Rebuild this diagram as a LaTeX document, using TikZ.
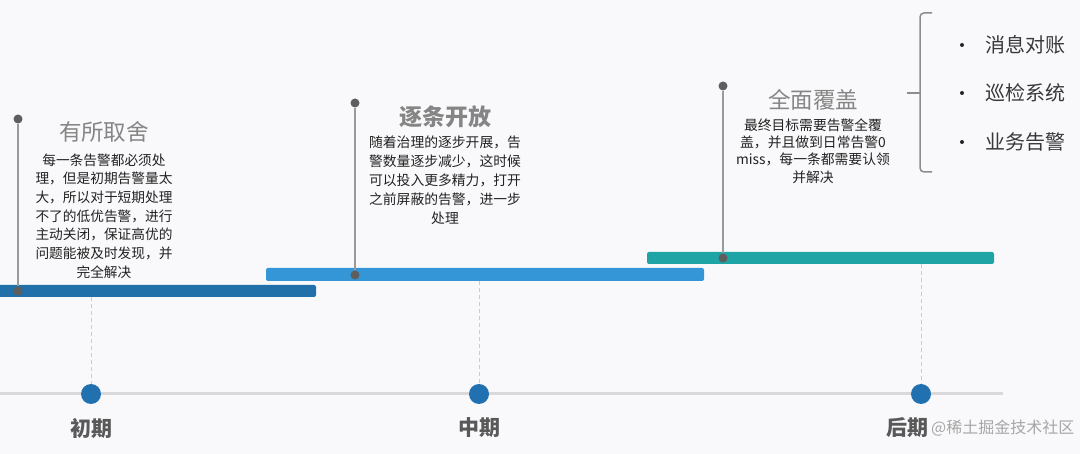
\documentclass[tikz,border=0pt]{standalone}
\usepackage{fontspec}
\setmainfont{Noto Sans CJK SC}
\usetikzlibrary{calc}
\definecolor{bgc}{HTML}{F9F9FB}
\definecolor{barA}{HTML}{2170A9}
\definecolor{barB}{HTML}{3496D6}
\definecolor{barC}{HTML}{1EA4A4}
\definecolor{dotc}{HTML}{2171B0}
\definecolor{axisc}{HTML}{D9D9D9}
\definecolor{pinc}{HTML}{9A9A9A}
\definecolor{pindot}{HTML}{5E5E5E}
\definecolor{titlec}{HTML}{858585}
\definecolor{bodyc}{HTML}{222222}
\definecolor{labelc}{HTML}{595959}
\definecolor{bracec}{HTML}{8C8C8C}
\tikzset{
  x=1pt,y=-1pt,
  bar/.style={rounded corners=2pt, draw=none},
  stagedot/.style={circle, fill=dotc, minimum size=20pt, inner sep=0pt},
  pindotst/.style={circle, fill=pindot, minimum size=9pt, inner sep=0pt},
  pinline/.style={draw=pinc, line width=1.6pt},
  guide/.style={draw=axisc!85!gray, line width=1pt, dash pattern=on 4pt off 3pt},
  titlest/.style={text=titlec, font=\fontsize{22.5}{26}\selectfont, inner sep=0pt},
  bodyst/.style={text=bodyc, align=center, inner sep=0pt},
  stagelabel/.style={text=labelc, font=\bfseries\fontsize{21}{24}\selectfont, inner sep=0pt},
  bulletdot/.style={circle, fill=black!85, minimum size=4pt, inner sep=0pt},
  itemst/.style={text=bodyc!90!white, font=\fontsize{20}{24}\selectfont, anchor=west, inner sep=0pt},
}
\begin{document}
\begin{tikzpicture}
\useasboundingbox (0,0) rectangle (1080,454);
\fill[bgc] (0,0) rectangle (1080,454);

% axis
\draw[axisc, line width=3pt] (0,394) -- (1003,394);

% stage dots
\node[stagedot] (s1) at (91,394) {};
\node[stagedot] (s2) at (479,394) {};
\node[stagedot] (s3) at (921,394) {};

% bars
\fill[barA, bar] (-5,285) rectangle (316,297);
\fill[barB, bar] (266,268) rectangle (704,281);
\fill[barC, bar] (647,252) rectangle (994,264);

% guide anchors on bars
\coordinate (g1) at (91,297);
\coordinate (g2) at (479,281);
\coordinate (g3) at (921,264);
\draw[guide] (g1) -- (s1.north);
\draw[guide] (g2) -- (s2.north);
\draw[guide] (g3) -- (s3.north);

% pins
\node[pindotst] (p1t) at (18,119) {};
\node[pindotst] (p1b) at (18,291) {};
\node[pindotst] (p2t) at (355,103) {};
\node[pindotst] (p2b) at (355,275) {};
\node[pindotst] (p3t) at (723,86) {};
\node[pindotst] (p3b) at (723,258) {};
\draw[pinline] (p1t) -- (p1b);
\draw[pinline] (p2t) -- (p2b);
\draw[pinline] (p3t) -- (p3b);

% titles
\node[titlest] (t1) at (104,132) {有所取舍};
\node[titlest, font=\bfseries\fontsize{23}{26}\selectfont] (t2) at (445,117) {逐条开放};
\node[titlest] (t3) at (813,100) {全面覆盖};

% bodies
\node[bodyst, font=\fontsize{13.7}{18.7}\selectfont] (b1) at (104,216)
 {每一条告警都必须处\\理，但是初期告警量太\\大，所以对于短期处理\\不了的低优告警，进行\\主动关闭，保证高优的\\问题能被及时发现，并\\完全解决};
\node[bodyst, font=\fontsize{13.8}{19}\selectfont] (b2) at (445,180)
 {随着治理的逐步开展，告\\警数量逐步减少，这时候\\可以投入更多精力，打开\\之前屏蔽的告警，进一步\\处理};
\node[bodyst, font=\fontsize{13.8}{17.4}\selectfont] (b3) at (813,151)
 {最终目标需要告警全覆\\盖，并且做到日常告警0\\miss，每一条都需要认领\\并解决};

% brace
\coordinate (brt) at (932,13);
\coordinate (brb) at (932,172);
\coordinate (brm) at (907,93);
\draw[bracec, line width=1.5pt, rounded corners=4pt] (brt) -- (920,13) -- (920,172) -- (brb);
\draw[bracec, line width=1.5pt] (brm) -- (920,93);

% bullet list
\node[bulletdot] (d1) at (962,45) {};
\node[bulletdot] (d2) at (962,93) {};
\node[bulletdot] (d3) at (962,142) {};
\node[itemst] (i1) at (985,45) {消息对账};
\node[itemst] (i2) at (985,93) {巡检系统};
\node[itemst] (i3) at (985,142) {业务告警};

% stage labels
\node[stagelabel] (l1) at (91,428) {初期};
\node[stagelabel] (l2) at (479,428) {中期};
\node[stagelabel] (l3) at (907,428) {后期};

% watermark
\node[text=gray!70, font=\fontsize{16}{18}\selectfont, anchor=west, inner sep=0pt] (wm) at (931,428) {@稀土掘金技术社区};
\end{tikzpicture}
\end{document}
